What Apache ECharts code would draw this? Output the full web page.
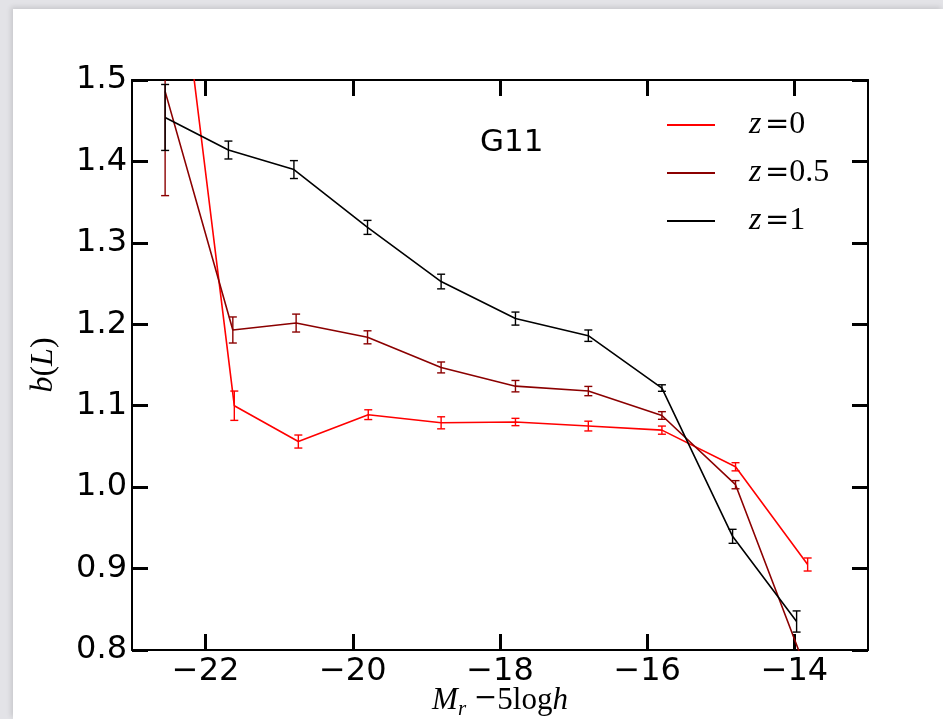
<!DOCTYPE html>
<html>
<head>
<meta charset="utf-8">
<script src="https://cdn.jsdelivr.net/npm/echarts@6/dist/echarts.min.js"></script>
<style>
  html, body { margin:0; padding:0; width:943px; height:719px; overflow:hidden; background:#e3e3e7; }
  #paper { position:absolute; left:13px; top:9px; right:0; bottom:0; background:#ffffff; box-shadow:-2px -2px 5px rgba(0,0,0,0.12); }
  #chart { position:absolute; left:0; top:0; width:943px; height:719px; }
</style>
</head>
<body>
<div id="paper"></div>
<div id="chart"></div>
<script>
// ---- data ----
const seriesNames = ['z=0', 'z=0.5', 'z=1'];
const seriesColors = ['#ff0000', '#8b0000', '#000000'];

const mag_z0  = [-22.55, -21.61, -20.74, -19.79, -18.80, -17.79, -16.80, -15.80, -14.80, -13.82];
const bias_z0 = [1.79, 1.100, 1.056, 1.089, 1.079, 1.080, 1.075, 1.070, 1.025, 0.905];
const err_z0  = [0.03, 0.018, 0.008, 0.006, 0.0074, 0.0045, 0.006, 0.005, 0.005, 0.008];

const mag_z05  = [-22.55, -21.63, -20.77, -19.80, -18.80, -17.79, -16.80, -15.80, -14.80, -13.88];
const bias_z05 = [1.486, 1.193, 1.2015, 1.184, 1.147, 1.124, 1.118, 1.088, 1.003, 0.785];
const err_z05  = [0.128, 0.016, 0.011, 0.008, 0.0067, 0.007, 0.0057, 0.0047, 0.005, 0.01];

const mag_z1  = [-22.55, -21.69, -20.80, -19.80, -18.80, -17.79, -16.80, -15.80, -14.84, -13.97];
const bias_z1 = [1.454, 1.414, 1.390, 1.319, 1.2525, 1.207, 1.186, 1.1217, 0.9396, 0.835];
const err_z1  = [0.0405, 0.011, 0.011, 0.0086, 0.009, 0.008, 0.007, 0.004, 0.0086, 0.013];

const xTicks = [-22, -20, -18, -16, -14];
const yTicks = [0.8, 0.9, 1.0, 1.1, 1.2, 1.3, 1.4, 1.5];
const panelLabel = 'G11';

// ---- build chart ----
const mags = [mag_z0, mag_z05, mag_z1];
const biases = [bias_z0, bias_z05, bias_z1];
const errs = [err_z0, err_z05, err_z1];

const chart = echarts.init(document.getElementById('chart'), null, {renderer:'canvas'});

const sansFont = 'DejaVu Sans';
const serifFont = 'Liberation Serif';
const symFont = 'DejaVu Serif';

function errRender(color) {
  return function (params, api) {
    const x = api.value(0), y = api.value(1), e = api.value(2);
    const lo = api.coord([x, y - e]);
    const hi = api.coord([x, y + e]);
    const cap = 4;
    const st = { stroke: color, lineWidth: 1.4 };
    return {
      type: 'group',
      children: [
        { type: 'line', shape: { x1: lo[0], y1: lo[1], x2: hi[0], y2: hi[1] }, style: st },
        { type: 'line', shape: { x1: lo[0] - cap, y1: lo[1], x2: lo[0] + cap, y2: lo[1] }, style: st },
        { type: 'line', shape: { x1: hi[0] - cap, y1: hi[1], x2: hi[0] + cap, y2: hi[1] }, style: st }
      ]
    };
  };
}

const series = [];
for (let k = 0; k < 3; k++) {
  const pts = mags[k].map((m, i) => [m, biases[k][i]]);
  series.push({
    name: seriesNames[k],
    type: 'line',
    data: pts,
    symbol: 'none',
    lineStyle: { color: seriesColors[k], width: 1.6 },
    itemStyle: { color: seriesColors[k] },
    clip: true,
    z: 3,
    animation: false
  });
  series.push({
    name: seriesNames[k] + ' err',
    type: 'custom',
    data: mags[k].map((m, i) => [m, biases[k][i], errs[k][i]]),
    renderItem: errRender(seriesColors[k]),
    clip: true,
    z: 4,
    animation: false,
    encode: { x: 0, y: 1 }
  });
}

const axisLineStyle = { show: true, lineStyle: { color: '#000', width: 2 } };
const tickStyle = { show: true, inside: true, length: 16, lineStyle: { color: '#000', width: 3 } };

const option = {
  animation: false,
  grid: { left: 132, right: 75, top: 80, bottom: 69, containLabel: false, outerBoundsMode: 'none' },
  title: {
    text: panelLabel,
    left: 475, top: 122,
    textStyle: { fontFamily: sansFont, fontSize: 31, fontWeight: 'normal', color: '#000' }
  },
  legend: {
    data: seriesNames,
    orient: 'vertical',
    left: 662, top: 104,
    itemWidth: 48, itemHeight: 2,
    itemGap: 16,
    icon: 'rect',
    selectedMode: false,
    formatter: function (name) {
      return '{i|z}{sp| }{e|=}{n|' + name.split('=')[1] + '}';
    },
    textStyle: {
      padding: [0, 0, 0, 29],
      rich: {
        i: { fontFamily: serifFont, fontStyle: 'italic', fontSize: 32, lineHeight: 32, color: '#000' },
        sp: { fontFamily: serifFont, fontSize: 14, lineHeight: 32, color: '#000' },
        e: { fontFamily: symFont, fontSize: 29, lineHeight: 32, color: '#000' },
        n: { fontFamily: serifFont, fontSize: 32, lineHeight: 32, color: '#000' }
      }
    }
  },
  xAxis: [
    {
      type: 'value', min: -23, max: -13, position: 'bottom',
      axisLine: axisLineStyle,
      axisTick: Object.assign({ customValues: xTicks }, tickStyle),
      splitLine: { show: false },
      axisLabel: {
        customValues: xTicks,
        margin: 6,
        fontFamily: sansFont, fontSize: 32, color: '#000',
        formatter: v => String(v).replace('-', '\u2212')
      },
      name: '{i|M}{s|r}{n| }{e|\u2212}{n|5log}{i|h}',
      nameLocation: 'middle',
      nameGap: 35,
      nameMoveOverlap: false,
      nameTextStyle: {
        rich: {
          i: { fontFamily: serifFont, fontStyle: 'italic', fontSize: 31, lineHeight: 30, verticalAlign: 'top', color: '#000' },
          s: { fontFamily: serifFont, fontStyle: 'italic', fontSize: 21, lineHeight: 20, padding: [14, 0, 0, 0], verticalAlign: 'top', color: '#000' },
          n: { fontFamily: serifFont, fontSize: 31, lineHeight: 30, verticalAlign: 'top', color: '#000' },
          e: { fontFamily: symFont, fontSize: 28, lineHeight: 30, verticalAlign: 'top', color: '#000' }
        }
      }
    },
    {
      type: 'value', min: -23, max: -13, position: 'top',
      axisLine: axisLineStyle,
      axisTick: Object.assign({ customValues: xTicks }, tickStyle),
      axisLabel: { show: false },
      splitLine: { show: false }
    }
  ],
  yAxis: [
    {
      type: 'value', min: 0.8, max: 1.5, interval: 0.1, position: 'left',
      axisLine: axisLineStyle,
      axisTick: tickStyle,
      splitLine: { show: false },
      axisLabel: {
        margin: 5,
        fontFamily: sansFont, fontSize: 32, color: '#000',
        formatter: v => v.toFixed(1)
      },
      name: '{i|b}{n|(}{i|L}{n|)}',
      nameLocation: 'middle',
      nameRotate: 90,
      nameGap: 72,
      nameMoveOverlap: false,
      nameTextStyle: {
        rich: {
          i: { fontFamily: serifFont, fontStyle: 'italic', fontSize: 32, color: '#000' },
          n: { fontFamily: serifFont, fontSize: 32, color: '#000' }
        }
      }
    },
    {
      type: 'value', min: 0.8, max: 1.5, interval: 0.1, position: 'right',
      axisLine: axisLineStyle,
      axisTick: tickStyle,
      axisLabel: { show: false },
      splitLine: { show: false }
    }
  ],
  series: series
};

chart.setOption(option);
</script>
</body>
</html>
